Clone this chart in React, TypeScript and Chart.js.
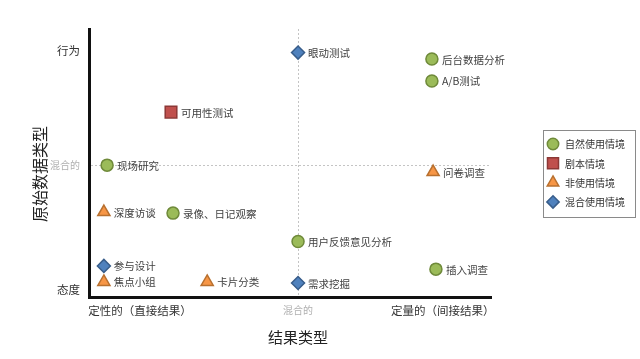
import React, { useEffect, useRef } from 'react';
import { Chart, registerables } from 'chart.js';

Chart.register(...registerables);

const FONT = '"Noto Sans CJK SC", "Noto Sans", sans-serif';

// series names (legend)
const seriesNames = ['自然使用情境', '剧本情境', '非使用情境', '混合使用情境'];

// 自然使用情境
const naturalLabels = ['后台数据分析', 'A/B测试', '现场研究', '录像、日记观察', '用户反馈意见分析', '插入调查'];
const naturalX = [8.53, 8.53, 0.45, 2.09, 5.2, 8.63];
const naturalY = [8.88, 8.06, 4.92, 3.13, 2.07, 1.04];

// 剧本情境
const scriptLabels = ['可用性测试'];
const scriptX = [2.04];
const scriptY = [6.9];

// 非使用情境
const nonUseLabels = ['问卷调查', '深度访谈', '焦点小组', '卡片分类'];
const nonUseX = [8.56, 0.37, 0.37, 2.94];
const nonUseY = [4.66, 3.17, 0.56, 0.56];

// 混合使用情境
const mixedLabels = ['眼动测试', '参与设计', '需求挖掘'];
const mixedX = [5.2, 0.37, 5.2];
const mixedY = [9.12, 1.16, 0.52];

// axis ticks
const xTickValues = [1.27, 5.2, 8.8];
const xTickLabels = ['定性的（直接结果）', '混合的', '定量的（间接结果）'];
const yTickValues = [0.26, 4.92, 9.2];
const yTickLabels = ['态度', '混合的', '行为'];

const xTitle = '结果类型';
const yTitle = '原始数据类型';

const seriesLabels = [naturalLabels, scriptLabels, nonUseLabels, mixedLabels];
const seriesX = [naturalX, scriptX, nonUseX, mixedX];
const seriesY = [naturalY, scriptY, nonUseY, mixedY];
const seriesStyle = [
  { pointStyle: 'circle', radius: 6, bg: '#9BBB59', border: '#6F8A3A' },
  { pointStyle: 'rect', radius: 8.2, bg: '#C0504D', border: '#8C3836' },
  { pointStyle: 'triangle', radius: 7, bg: '#F79646', border: '#B8702F' },
  { pointStyle: 'rectRot', radius: 6.5, bg: '#4F81BD', border: '#385D8A' },
];

function drawMarker(ctx: CanvasRenderingContext2D, style: string, x: number, y: number, r: number) {
  ctx.beginPath();
  if (style === 'circle') {
    ctx.arc(x, y, r, 0, Math.PI * 2);
  } else if (style === 'rect') {
    const s = Math.SQRT1_2 * r;
    ctx.rect(x - s, y - s, 2 * s, 2 * s);
  } else if (style === 'triangle') {
    for (let k = 0; k < 3; k++) {
      const a = -Math.PI / 2 + (k * 2 * Math.PI) / 3;
      const px = x + Math.cos(a) * r;
      const py = y + Math.sin(a) * r;
      if (k === 0) ctx.moveTo(px, py);
      else ctx.lineTo(px, py);
    }
    ctx.closePath();
  } else {
    ctx.moveTo(x, y - r);
    ctx.lineTo(x + r, y);
    ctx.lineTo(x, y + r);
    ctx.lineTo(x - r, y);
    ctx.closePath();
  }
  ctx.fill();
  ctx.stroke();
}

const overlayPlugin = {
  id: 'overlay',
  afterDatasetsDraw(chart: any) {
    const ctx = chart.ctx as CanvasRenderingContext2D;
    ctx.save();
    ctx.font = `10.5px ${FONT}`;
    ctx.fillStyle = '#404040';
    ctx.textBaseline = 'middle';
    ctx.textAlign = 'left';
    chart.data.datasets.forEach((_ds: any, di: number) => {
      const meta = chart.getDatasetMeta(di);
      meta.data.forEach((el: any, i: number) => {
        ctx.fillText(seriesLabels[di][i], el.x + 10, el.y + 0.5);
      });
    });
    ctx.restore();
  },
  afterDraw(chart: any) {
    const ctx = chart.ctx as CanvasRenderingContext2D;
    const area = chart.chartArea;
    const xs = chart.scales.x;
    ctx.save();
    // axis titles
    ctx.fillStyle = '#222';
    ctx.textAlign = 'center';
    ctx.textBaseline = 'middle';
    ctx.font = `15px ${FONT}`;
    ctx.fillText(xTitle, xs.getPixelForValue(xTickValues[1]), area.bottom + 40);
    ctx.save();
    ctx.translate(40, area.top + 145);
    ctx.rotate(-Math.PI / 2);
    ctx.font = `16px ${FONT}`;
    ctx.fillText(yTitle, 0, 0);
    ctx.restore();

    // legend
    const lx = area.right + 52;
    const ly = 130;
    const lw = 92;
    const lh = 87;
    ctx.fillStyle = '#fff';
    ctx.fillRect(lx, ly, lw, lh);
    ctx.strokeStyle = '#8a8a8a';
    ctx.lineWidth = 1;
    ctx.strokeRect(lx + 0.5, ly + 0.5, lw, lh);
    ctx.font = `10px ${FONT}`;
    ctx.textAlign = 'left';
    seriesNames.forEach((name, i) => {
      const cy = ly + 14 + i * 19.3;
      const st = seriesStyle[i];
      ctx.fillStyle = st.bg;
      ctx.strokeStyle = st.border;
      ctx.lineWidth = 1.5;
      drawMarker(ctx, st.pointStyle, lx + 10, cy, st.radius * 0.95);
      ctx.fillStyle = '#333';
      ctx.fillText(name, lx + 22, cy + 0.5);
    });
    ctx.restore();
  },
};

export default function App() {
  const ref = useRef<HTMLCanvasElement | null>(null);

  useEffect(() => {
    if (!ref.current) return;
    const datasets = seriesNames.map((name, di) => ({
      label: name,
      data: seriesX[di].map((x, i) => ({ x, y: seriesY[di][i] })),
      pointStyle: seriesStyle[di].pointStyle as any,
      pointRadius: seriesStyle[di].radius,
      pointHoverRadius: seriesStyle[di].radius,
      backgroundColor: seriesStyle[di].bg,
      borderColor: seriesStyle[di].border,
      borderWidth: 1.5,
      showLine: false,
    }));

    const chart = new Chart(ref.current, {
      type: 'scatter',
      data: { datasets },
      plugins: [overlayPlugin],
      options: {
        animation: false,
        responsive: true,
        maintainAspectRatio: false,
        layout: { padding: { top: 29, right: 149, bottom: 0, left: 0 } },
        plugins: {
          legend: { display: false },
          tooltip: { enabled: false },
        },
        scales: {
          x: {
            type: 'linear',
            min: 0,
            max: 10,
            afterBuildTicks: (scale: any) => {
              scale.ticks = xTickValues.map((v) => ({ value: v }));
            },
            afterFit: (scale: any) => {
              scale.height = 62;
            },
            ticks: {
              autoSkip: false,
              maxRotation: 0,
              padding: 7,
              callback: (_v: any, i: number) => xTickLabels[i],
              color: (c: any) => (c.index === 1 ? '#b0b0b0' : '#333'),
              font: (c: any) => ({ family: FONT, size: c.index === 1 ? 10 : 11.5 }),
            },
            grid: {
              drawTicks: false,
              color: (c: any) => (c.index === 1 ? '#c4c4c4' : 'rgba(0,0,0,0)'),
              lineWidth: 1,
            },
            border: { display: true, color: '#111', width: 3, dash: [2, 2] },
          },
          y: {
            type: 'linear',
            min: 0,
            max: 10,
            afterBuildTicks: (scale: any) => {
              scale.ticks = yTickValues.map((v) => ({ value: v }));
            },
            afterFit: (scale: any) => {
              scale.width = 89;
            },
            ticks: {
              autoSkip: false,
              padding: 9,
              callback: (_v: any, i: number) => yTickLabels[i],
              color: (c: any) => (c.index === 1 ? '#b0b0b0' : '#333'),
              font: (c: any) => ({ family: FONT, size: c.index === 1 ? 10 : 11.5 }),
            },
            grid: {
              drawTicks: false,
              color: (c: any) => (c.index === 1 ? '#c4c4c4' : 'rgba(0,0,0,0)'),
              lineWidth: 1,
            },
            border: { display: true, color: '#111', width: 3, dash: [2, 2] },
          },
        },
      },
    });
    return () => chart.destroy();
  }, []);

  return (
    <div style={{ position: 'fixed', left: 0, top: 0, width: 640, height: 359, background: '#fff' }}>
      <canvas ref={ref} />
    </div>
  );
}
